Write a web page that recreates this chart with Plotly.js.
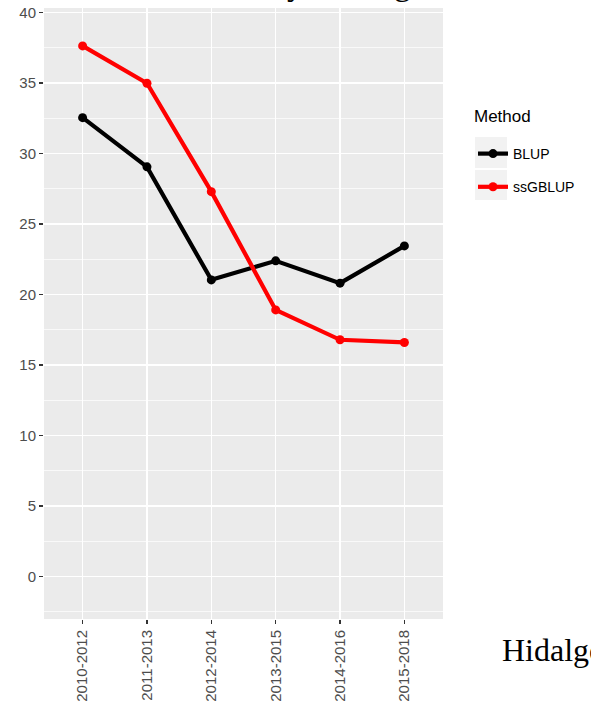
<!DOCTYPE html>
<html>
<head>
<meta charset="utf-8">
<script src="https://cdn.plot.ly/plotly-3.0.1.min.js"></script>
<style>html,body{margin:0;padding:0;background:#fff;}#chart{width:591px;height:712px;}</style>
</head>
<body>
<div id="chart"></div>
<script>
const periods = ["2010-2012","2011-2013","2012-2014","2013-2015","2014-2016","2015-2018"];
const blup = [32.55, 29.06, 21.04, 22.39, 20.81, 23.45];
const ssgblup = [37.64, 34.99, 27.30, 18.91, 16.79, 16.6];
const seriesNames = ["BLUP","ssGBLUP"];
const legendTitle = "Method";
const yTicks = [0,5,10,15,20,25,30,35,40];

const W = 591, H = 712;
const m = {l:44, r:148, t:8, b:93, autoexpand: false};
const pw = W - m.l - m.r, ph = H - m.t - m.b;
const px = x => (x - m.l) / pw;
const py = y => (H - m.b - y) / ph;

const traces = [
  {x: periods, y: blup, name: seriesNames[0], legendgroup: "a", type: "scatter", mode: "lines+markers",
   line: {color: "#000000", width: 4.2}, marker: {color: "#000000", size: 9}},
  {x: periods, y: ssgblup, name: seriesNames[1], legendgroup: "b", type: "scatter", mode: "lines+markers",
   line: {color: "#FF0000", width: 4.2}, marker: {color: "#FF0000", size: 9}}
];

const keyBox = (y0, y1) => ({type: "rect", xref: "paper", yref: "paper", layer: "below",
  x0: px(475), x1: px(507), y0: py(y1), y1: py(y0), fillcolor: "#F2F2F2", line: {width: 0}});

const serif = "Liberation Serif, Times New Roman, serif";

const layout = {
  width: W, height: H,
  margin: m,
  paper_bgcolor: "#ffffff",
  plot_bgcolor: "#EBEBEB",
  font: {family: "Liberation Sans, Arial, sans-serif", color: "#4D4D4D"},
  showlegend: true,
  legend: {
    x: px(473), y: py(138), xanchor: "left", yanchor: "top",
    bgcolor: "rgba(0,0,0,0)",
    font: {size: 14, color: "#000000"},
    itemwidth: 30, tracegroupgap: 12
  },
  shapes: [keyBox(137, 168), keyBox(170, 200)],
  xaxis: {
    type: "category", range: [-0.6, 5.6],
    showgrid: true, gridcolor: "#ffffff", gridwidth: 1.6,
    zeroline: false, showline: false,
    ticks: "outside", ticklen: 4, tickwidth: 1.4, tickcolor: "#333333",
    tickangle: -90, tickfont: {size: 15, color: "#4D4D4D"}
  },
  yaxis: {
    range: [-3.02, 40.33],
    tickvals: yTicks,
    showgrid: true, gridcolor: "#ffffff", gridwidth: 1.6,
    minor: {dtick: 2.5, tick0: 0, showgrid: true, gridcolor: "#ffffff", gridwidth: 0.7, ticks: ""},
    zeroline: false, showline: false,
    ticks: "outside", ticklen: 4, tickwidth: 1.4, tickcolor: "#333333",
    tickfont: {size: 15, color: "#4D4D4D"}
  },
  annotations: [
    {xref: "paper", yref: "paper", x: px(473), y: py(117), xanchor: "left", yanchor: "middle",
     text: legendTitle, showarrow: false, borderpad: 0,
     font: {size: 17, color: "#000000"}},
    {xref: "paper", yref: "paper", x: px(501), y: py(662), xanchor: "left", yanchor: "bottom",
     text: "Hidalgo", showarrow: false, borderpad: 0,
     font: {family: serif, size: 32, color: "#000000"}, yshift: -7},
    {xref: "paper", yref: "paper", x: px(295), y: py(3), xanchor: "center", yanchor: "bottom",
     text: "y", showarrow: false, borderpad: 0,
     font: {family: serif, size: 34, color: "#000000"}},
    {xref: "paper", yref: "paper", x: px(402), y: py(3), xanchor: "center", yanchor: "bottom",
     text: "g", showarrow: false, borderpad: 0,
     font: {family: serif, size: 34, color: "#000000"}}
  ]
};

Plotly.newPlot("chart", traces, layout, {displayModeBar: false, staticPlot: true});
</script>
</body>
</html>
